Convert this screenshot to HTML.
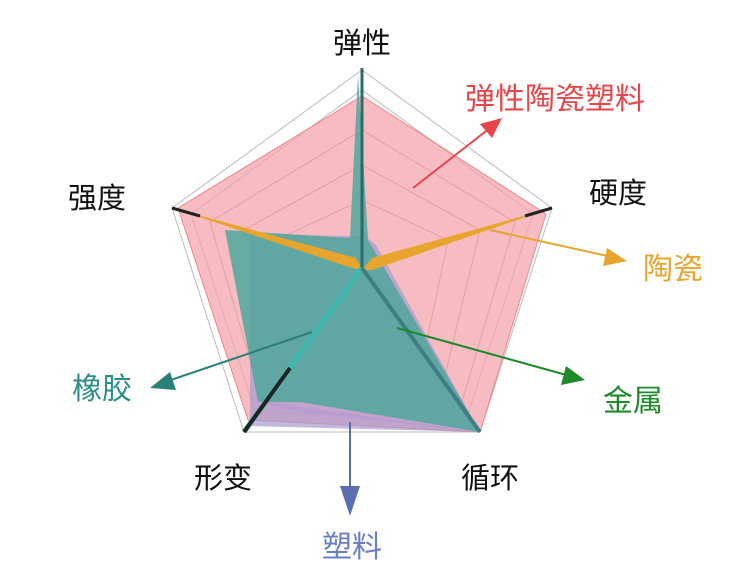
<!DOCTYPE html>
<html><head><meta charset="utf-8"><style>
html,body{margin:0;padding:0;background:#fff;width:742px;height:573px;overflow:hidden}
svg text{font-family:"Liberation Sans","Noto Sans CJK SC",sans-serif}
</style></head><body>
<svg width="742" height="573" viewBox="0 0 742 573" xmlns="http://www.w3.org/2000/svg">
<g fill="none" stroke="#bbb" stroke-width="1">
<polygon points="362,70 552,208 480,432 244,432 172,208"/>
<polygon points="362,90 533,214 468,414 256,414 191,214"/>
</g>
<polygon points="362,96 546,214 480,432 248,420 178,208" fill="#f4a0a8" fill-opacity="0.7" stroke="#e88" stroke-width="1"/>
<g fill="none" stroke="#d88" stroke-width="0.8" opacity="0.7">
<polygon points="362,130 515,222 462,402 262,402 210,222"/>
<polygon points="362,165 480,230 445,375 280,375 244,230"/>
<polygon points="362,200 448,240 425,350 300,350 276,240"/>
</g>
<polygon points="250,235 365,236 376,245 480,432 250,426" fill="#a89ad0" fill-opacity="0.7"/>
<polygon points="225,230 350,238 358,75 368,240 480,432 300,402 258,402" fill="#4fa89c" fill-opacity="0.85"/>
<polygon points="250,400 480,432 300,412" fill="#b49ad6" fill-opacity="0.6"/>
<polygon points="172,208 356,258 362,270 352,268" fill="#e8a52e"/>
<polygon points="552,208 372,258 362,270 372,270" fill="#e8a52e"/>
<line x1="362" y1="268" x2="362" y2="68" stroke="#2d6a68" stroke-width="3"/>
<line x1="362" y1="268" x2="244" y2="432" stroke="#3fb8b0" stroke-width="5"/>
<line x1="290" y1="368" x2="244" y2="432" stroke="#222" stroke-width="4"/>
<line x1="362" y1="268" x2="480" y2="432" stroke="#3f7e82" stroke-width="4"/>
<line x1="172" y1="208" x2="200" y2="216" stroke="#222" stroke-width="3"/>
<line x1="552" y1="208" x2="525" y2="216" stroke="#222" stroke-width="3"/>
<line x1="413" y1="188" x2="490" y2="128" stroke="#e8454a" stroke-width="2"/>
<polygon points="502,118 480,124 492,138" fill="#e8454a"/>
<line x1="490" y1="230" x2="612" y2="257" stroke="#e8a52e" stroke-width="2"/>
<polygon points="627,261 607,248 603,266" fill="#e8a52e"/>
<line x1="397" y1="328" x2="570" y2="376" stroke="#1f8a2a" stroke-width="2"/>
<polygon points="585,380 566,366 561,385" fill="#1f8a2a"/>
<line x1="312" y1="332" x2="165" y2="382" stroke="#2a7f78" stroke-width="2"/>
<polygon points="150,388 170,372 176,390" fill="#2a7f78"/>
<line x1="350" y1="422" x2="350" y2="490" stroke="#5a6fb0" stroke-width="2"/>
<polygon points="340,486 360,486 350,516" fill="#5a6fb0"/>
<g font-size="29" text-anchor="middle">
<text x="362" y="53" fill="#111">弹性</text>
<text x="97" y="208" fill="#111">强度</text>
<text x="618" y="203" fill="#111">硬度</text>
<text x="223" y="488" fill="#111">形变</text>
<text x="490" y="488" fill="#111">循环</text>
<text x="555" y="109" fill="#e8454a" font-size="30">弹性陶瓷塑料</text>
<text x="673" y="279" fill="#e8a52e" font-size="30">陶瓷</text>
<text x="633" y="411" fill="#1f8a2a" font-size="30">金属</text>
<text x="102" y="399" fill="#2a8f88" font-size="30">橡胶</text>
<text x="352" y="557" fill="#6a7fc0" font-size="30">塑料</text>
</g>
</svg>
</body></html>
